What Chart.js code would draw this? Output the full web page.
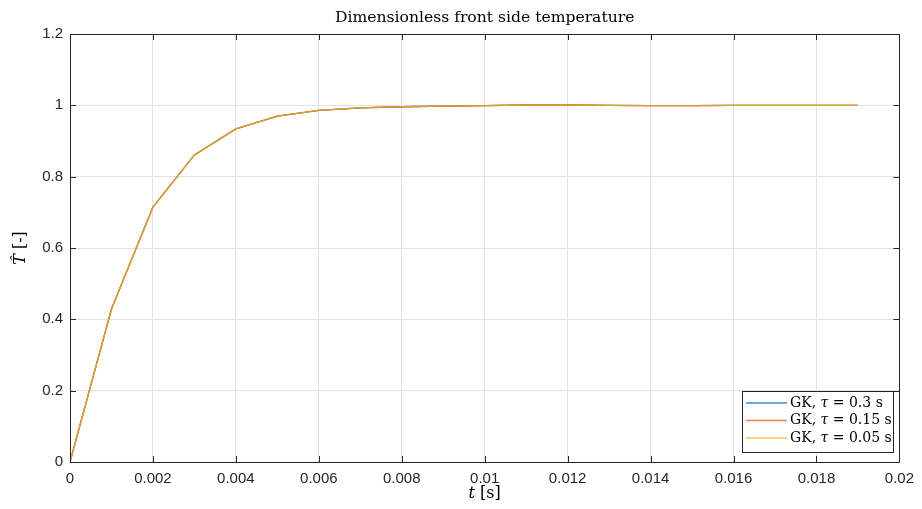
<!DOCTYPE html>
<html>
<head>
<meta charset="utf-8">
<script src="https://cdn.jsdelivr.net/npm/chart.js@4.4.1/dist/chart.umd.min.js"></script>
<style>
	html, body { margin: 0; padding: 0; background: #fff; }
	#wrap { width: 922px; height: 509px; position: relative; }
</style>
</head>
<body>
<div id="wrap"><canvas id="chart" width="922" height="509"></canvas></div>
<script>
// Dimensionless front side temperature, GK model for three relaxation times

const times = [0, 0.001, 0.002, 0.003, 0.004, 0.005, 0.006, 0.007, 0.008, 0.009,
	0.010, 0.011, 0.012, 0.013, 0.014, 0.015, 0.016, 0.017, 0.018, 0.019];
const tau03 = [0, 0.429, 0.715, 0.861, 0.934, 0.970, 0.986, 0.993, 0.996, 0.998,
	0.999, 1.001, 1.001, 1.000, 0.999, 0.999, 1.000, 1.000, 1.000, 1.000];
const tau015 = [0, 0.429, 0.715, 0.861, 0.934, 0.970, 0.986, 0.993, 0.996, 0.998,
	0.999, 1.001, 1.001, 1.000, 0.999, 0.999, 1.000, 1.000, 1.000, 1.000];
const tau005 = [0, 0.429, 0.715, 0.861, 0.934, 0.970, 0.986, 0.993, 0.996, 0.998,
	0.999, 1.001, 1.001, 1.000, 0.999, 0.999, 1.000, 1.000, 1.000, 1.000];
const seriesLabels = ['0.3', '0.15', '0.05'];
const xTicks = [0, 0.002, 0.004, 0.006, 0.008, 0.01, 0.012, 0.014, 0.016, 0.018, 0.02];
const yTicks = [0, 0.2, 0.4, 0.6, 0.8, 1, 1.2];

const colors = ['rgba(0,114,189,0.85)', 'rgba(217,83,25,0.85)', 'rgba(237,177,32,0.8)'];
const legendColors = ['#3d8fcc', '#e8825a', '#f0c75e'];
const SERIF = '"DejaVu Serif", "Liberation Serif", serif';
const SANS = '"Liberation Sans", Arial, sans-serif';

function pts(ys) {
	return times.map((t, i) => ({ x: t, y: ys[i] }));
}

// box, inward ticks, titles and legend drawn on top
const matlabFrame = {
	id: 'matlabFrame',
	afterDraw(chart) {
		const ctx = chart.ctx;
		const a = chart.chartArea;
		const xs = chart.scales.x, ys = chart.scales.y;
		ctx.save();
		ctx.strokeStyle = '#262626';
		ctx.lineWidth = 1;
		ctx.beginPath();
		ctx.rect(Math.round(a.left) + 0.5, Math.round(a.top) + 0.5,
			Math.round(a.right - a.left), Math.round(a.bottom - a.top));
		ctx.stroke();
		const tl = 6;
		ctx.beginPath();
		xTicks.forEach(v => {
			const px = Math.round(xs.getPixelForValue(v)) + 0.5;
			ctx.moveTo(px, a.bottom); ctx.lineTo(px, a.bottom - tl);
			ctx.moveTo(px, a.top); ctx.lineTo(px, a.top + tl);
		});
		yTicks.forEach(v => {
			const py = Math.round(ys.getPixelForValue(v)) + 0.5;
			ctx.moveTo(a.left, py); ctx.lineTo(a.left + tl, py);
			ctx.moveTo(a.right, py); ctx.lineTo(a.right - tl, py);
		});
		ctx.stroke();

		// title
		ctx.fillStyle = '#000';
		ctx.textAlign = 'center';
		ctx.textBaseline = 'middle';
		ctx.font = '15.6px ' + SERIF;
		ctx.fillText('Dimensionless front side temperature', (a.left + a.right) / 2, 18);

		// x title: t [s]
		const xc = (a.left + a.right) / 2;
		ctx.font = 'italic 16px ' + SERIF;
		const w1 = ctx.measureText('t').width;
		ctx.font = '16px ' + SERIF;
		const w2 = ctx.measureText(' [s]').width;
		let x0 = xc - (w1 + w2) / 2;
		ctx.textAlign = 'left';
		ctx.font = 'italic 16px ' + SERIF;
		ctx.fillText('t', x0, 494);
		ctx.font = '16px ' + SERIF;
		ctx.fillText(' [s]', x0 + w1, 494);

		// y title: T-hat [-]
		ctx.save();
		ctx.translate(21, (a.top + a.bottom) / 2);
		ctx.rotate(-Math.PI / 2);
		ctx.font = 'italic 16px ' + SERIF;
		const h1 = ctx.measureText('T\u0302').width;
		ctx.font = '16px ' + SERIF;
		const h2 = ctx.measureText(' [-]').width;
		let y0 = -(h1 + h2) / 2;
		ctx.font = 'italic 16px ' + SERIF;
		ctx.fillText('T\u0302', y0, 0);
		ctx.font = '16px ' + SERIF;
		ctx.fillText(' [-]', y0 + h1, 0);
		ctx.restore();

		// legend
		const lx = 742, ly = 391, lw = 151, lh = 61;
		ctx.fillStyle = '#fff';
		ctx.fillRect(lx, ly, lw, lh);
		ctx.strokeStyle = '#262626';
		ctx.lineWidth = 1;
		ctx.strokeRect(lx + 0.5, ly + 0.5, lw, lh);
		ctx.textBaseline = 'middle';
		chart.data.datasets.forEach((ds, i) => {
			const ry = ly + 12 + i * 17.5;
			ctx.strokeStyle = legendColors[i];
			ctx.lineWidth = 1.3;
			ctx.beginPath();
			ctx.moveTo(lx + 4, ry); ctx.lineTo(lx + 45, ry);
			ctx.stroke();
			ctx.fillStyle = '#000';
			let tx = lx + 48;
			ctx.font = '14px ' + SERIF;
			ctx.fillText('GK, ', tx, ry);
			tx += ctx.measureText('GK, ').width;
			ctx.font = 'italic 14px ' + SERIF;
			ctx.fillText('\u03C4', tx, ry);
			tx += ctx.measureText('\u03C4').width;
			ctx.font = '14px ' + SERIF;
			ctx.fillText(' = ' + seriesLabels[i] + ' s', tx, ry);
		});
		ctx.restore();
	}
};

const ctx = document.getElementById('chart').getContext('2d');
new Chart(ctx, {
	type: 'line',
	data: {
		datasets: [tau03, tau015, tau005].map((ys, i) => ({
			label: 'GK, \u03C4 = ' + seriesLabels[i] + ' s',
			data: pts(ys),
			borderColor: colors[i],
			borderWidth: 1.3,
			pointRadius: 0,
			fill: false,
			tension: 0,
			order: 2 - i // later series drawn on top, like MATLAB
		}))
	},
	options: {
		responsive: false,
		animation: false,
		layout: { padding: { top: 34, right: 17, left: 0, bottom: 0 } },
		plugins: {
			legend: { display: false },
			tooltip: { enabled: false }
		},
		scales: {
			x: {
				type: 'linear',
				min: 0, max: 0.02,
				afterBuildTicks: s => { s.ticks = xTicks.map(v => ({ value: v })); },
				afterFit: s => { s.height = 47; },
				grid: { color: '#e3e3e3', drawTicks: false },
				border: { display: false },
				ticks: {
					padding: 8,
					color: '#262626',
					font: { family: SANS, size: 15 },
					maxRotation: 0,
					callback: v => String(Number(v.toFixed(3)))
				}
			},
			y: {
				type: 'linear',
				min: 0, max: 1.2,
				afterBuildTicks: s => { s.ticks = yTicks.map(v => ({ value: v })); },
				afterFit: s => { s.width = 70; },
				grid: { color: '#e3e3e3', drawTicks: false },
				border: { display: false },
				ticks: {
					padding: 7,
					color: '#262626',
					font: { family: SANS, size: 15 },
					callback: v => String(Number(v.toFixed(1)))
				}
			}
		}
	},
	plugins: [matlabFrame]
});
</script>
</body>
</html>
